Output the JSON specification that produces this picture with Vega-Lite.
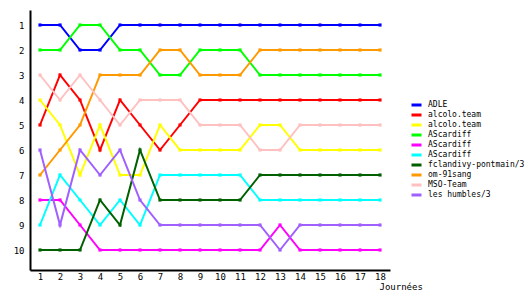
{
  "$schema": "https://vega.github.io/schema/vega-lite/v6.json",
  "width": 360,
  "height": 260,
  "autosize": {"type": "none"},
  "padding": {"left": 30, "top": 10, "right": 140, "bottom": 30},
  "background": "white",
  "config": {
    "view": {"stroke": null},
    "font": "DejaVu Sans Mono",
    "axis": {"labelFont": "DejaVu Sans Mono", "titleFont": "DejaVu Sans Mono", "labelColor": "black", "titleColor": "black", "domainColor": "black", "domainWidth": 2, "grid": false, "ticks": false, "labelFontSize": 9, "titleFontWeight": "normal", "titleFontSize": 9},
    "legend": {"labelFont": "DejaVu Sans Mono", "labelFontSize": 8, "labelColor": "black"}
  },
  "data": {"values": [
    {"team": "ADLE|0", "j": 1, "rank": 1}, {"team": "ADLE|0", "j": 2, "rank": 1}, {"team": "ADLE|0", "j": 3, "rank": 2}, {"team": "ADLE|0", "j": 4, "rank": 2}, {"team": "ADLE|0", "j": 5, "rank": 1}, {"team": "ADLE|0", "j": 6, "rank": 1}, {"team": "ADLE|0", "j": 7, "rank": 1}, {"team": "ADLE|0", "j": 8, "rank": 1}, {"team": "ADLE|0", "j": 9, "rank": 1}, {"team": "ADLE|0", "j": 10, "rank": 1}, {"team": "ADLE|0", "j": 11, "rank": 1}, {"team": "ADLE|0", "j": 12, "rank": 1}, {"team": "ADLE|0", "j": 13, "rank": 1}, {"team": "ADLE|0", "j": 14, "rank": 1}, {"team": "ADLE|0", "j": 15, "rank": 1}, {"team": "ADLE|0", "j": 16, "rank": 1}, {"team": "ADLE|0", "j": 17, "rank": 1}, {"team": "ADLE|0", "j": 18, "rank": 1},
    {"team": "alcolo.team|1", "j": 1, "rank": 5}, {"team": "alcolo.team|1", "j": 2, "rank": 3}, {"team": "alcolo.team|1", "j": 3, "rank": 4}, {"team": "alcolo.team|1", "j": 4, "rank": 6}, {"team": "alcolo.team|1", "j": 5, "rank": 4}, {"team": "alcolo.team|1", "j": 6, "rank": 5}, {"team": "alcolo.team|1", "j": 7, "rank": 6}, {"team": "alcolo.team|1", "j": 8, "rank": 5}, {"team": "alcolo.team|1", "j": 9, "rank": 4}, {"team": "alcolo.team|1", "j": 10, "rank": 4}, {"team": "alcolo.team|1", "j": 11, "rank": 4}, {"team": "alcolo.team|1", "j": 12, "rank": 4}, {"team": "alcolo.team|1", "j": 13, "rank": 4}, {"team": "alcolo.team|1", "j": 14, "rank": 4}, {"team": "alcolo.team|1", "j": 15, "rank": 4}, {"team": "alcolo.team|1", "j": 16, "rank": 4}, {"team": "alcolo.team|1", "j": 17, "rank": 4}, {"team": "alcolo.team|1", "j": 18, "rank": 4},
    {"team": "alcolo.team|2", "j": 1, "rank": 4}, {"team": "alcolo.team|2", "j": 2, "rank": 5}, {"team": "alcolo.team|2", "j": 3, "rank": 7}, {"team": "alcolo.team|2", "j": 4, "rank": 5}, {"team": "alcolo.team|2", "j": 5, "rank": 7}, {"team": "alcolo.team|2", "j": 6, "rank": 7}, {"team": "alcolo.team|2", "j": 7, "rank": 5}, {"team": "alcolo.team|2", "j": 8, "rank": 6}, {"team": "alcolo.team|2", "j": 9, "rank": 6}, {"team": "alcolo.team|2", "j": 10, "rank": 6}, {"team": "alcolo.team|2", "j": 11, "rank": 6}, {"team": "alcolo.team|2", "j": 12, "rank": 5}, {"team": "alcolo.team|2", "j": 13, "rank": 5}, {"team": "alcolo.team|2", "j": 14, "rank": 6}, {"team": "alcolo.team|2", "j": 15, "rank": 6}, {"team": "alcolo.team|2", "j": 16, "rank": 6}, {"team": "alcolo.team|2", "j": 17, "rank": 6}, {"team": "alcolo.team|2", "j": 18, "rank": 6},
    {"team": "AScardiff|3", "j": 1, "rank": 2}, {"team": "AScardiff|3", "j": 2, "rank": 2}, {"team": "AScardiff|3", "j": 3, "rank": 1}, {"team": "AScardiff|3", "j": 4, "rank": 1}, {"team": "AScardiff|3", "j": 5, "rank": 2}, {"team": "AScardiff|3", "j": 6, "rank": 2}, {"team": "AScardiff|3", "j": 7, "rank": 3}, {"team": "AScardiff|3", "j": 8, "rank": 3}, {"team": "AScardiff|3", "j": 9, "rank": 2}, {"team": "AScardiff|3", "j": 10, "rank": 2}, {"team": "AScardiff|3", "j": 11, "rank": 2}, {"team": "AScardiff|3", "j": 12, "rank": 3}, {"team": "AScardiff|3", "j": 13, "rank": 3}, {"team": "AScardiff|3", "j": 14, "rank": 3}, {"team": "AScardiff|3", "j": 15, "rank": 3}, {"team": "AScardiff|3", "j": 16, "rank": 3}, {"team": "AScardiff|3", "j": 17, "rank": 3}, {"team": "AScardiff|3", "j": 18, "rank": 3},
    {"team": "AScardiff|4", "j": 1, "rank": 8}, {"team": "AScardiff|4", "j": 2, "rank": 8}, {"team": "AScardiff|4", "j": 3, "rank": 9}, {"team": "AScardiff|4", "j": 4, "rank": 10}, {"team": "AScardiff|4", "j": 5, "rank": 10}, {"team": "AScardiff|4", "j": 6, "rank": 10}, {"team": "AScardiff|4", "j": 7, "rank": 10}, {"team": "AScardiff|4", "j": 8, "rank": 10}, {"team": "AScardiff|4", "j": 9, "rank": 10}, {"team": "AScardiff|4", "j": 10, "rank": 10}, {"team": "AScardiff|4", "j": 11, "rank": 10}, {"team": "AScardiff|4", "j": 12, "rank": 10}, {"team": "AScardiff|4", "j": 13, "rank": 9}, {"team": "AScardiff|4", "j": 14, "rank": 10}, {"team": "AScardiff|4", "j": 15, "rank": 10}, {"team": "AScardiff|4", "j": 16, "rank": 10}, {"team": "AScardiff|4", "j": 17, "rank": 10}, {"team": "AScardiff|4", "j": 18, "rank": 10},
    {"team": "AScardiff|5", "j": 1, "rank": 9}, {"team": "AScardiff|5", "j": 2, "rank": 7}, {"team": "AScardiff|5", "j": 3, "rank": 8}, {"team": "AScardiff|5", "j": 4, "rank": 9}, {"team": "AScardiff|5", "j": 5, "rank": 8}, {"team": "AScardiff|5", "j": 6, "rank": 9}, {"team": "AScardiff|5", "j": 7, "rank": 7}, {"team": "AScardiff|5", "j": 8, "rank": 7}, {"team": "AScardiff|5", "j": 9, "rank": 7}, {"team": "AScardiff|5", "j": 10, "rank": 7}, {"team": "AScardiff|5", "j": 11, "rank": 7}, {"team": "AScardiff|5", "j": 12, "rank": 8}, {"team": "AScardiff|5", "j": 13, "rank": 8}, {"team": "AScardiff|5", "j": 14, "rank": 8}, {"team": "AScardiff|5", "j": 15, "rank": 8}, {"team": "AScardiff|5", "j": 16, "rank": 8}, {"team": "AScardiff|5", "j": 17, "rank": 8}, {"team": "AScardiff|5", "j": 18, "rank": 8},
    {"team": "fclandivy-pontmain/3|6", "j": 1, "rank": 10}, {"team": "fclandivy-pontmain/3|6", "j": 2, "rank": 10}, {"team": "fclandivy-pontmain/3|6", "j": 3, "rank": 10}, {"team": "fclandivy-pontmain/3|6", "j": 4, "rank": 8}, {"team": "fclandivy-pontmain/3|6", "j": 5, "rank": 9}, {"team": "fclandivy-pontmain/3|6", "j": 6, "rank": 6}, {"team": "fclandivy-pontmain/3|6", "j": 7, "rank": 8}, {"team": "fclandivy-pontmain/3|6", "j": 8, "rank": 8}, {"team": "fclandivy-pontmain/3|6", "j": 9, "rank": 8}, {"team": "fclandivy-pontmain/3|6", "j": 10, "rank": 8}, {"team": "fclandivy-pontmain/3|6", "j": 11, "rank": 8}, {"team": "fclandivy-pontmain/3|6", "j": 12, "rank": 7}, {"team": "fclandivy-pontmain/3|6", "j": 13, "rank": 7}, {"team": "fclandivy-pontmain/3|6", "j": 14, "rank": 7}, {"team": "fclandivy-pontmain/3|6", "j": 15, "rank": 7}, {"team": "fclandivy-pontmain/3|6", "j": 16, "rank": 7}, {"team": "fclandivy-pontmain/3|6", "j": 17, "rank": 7}, {"team": "fclandivy-pontmain/3|6", "j": 18, "rank": 7},
    {"team": "om-91sang|7", "j": 1, "rank": 7}, {"team": "om-91sang|7", "j": 2, "rank": 6}, {"team": "om-91sang|7", "j": 3, "rank": 5}, {"team": "om-91sang|7", "j": 4, "rank": 3}, {"team": "om-91sang|7", "j": 5, "rank": 3}, {"team": "om-91sang|7", "j": 6, "rank": 3}, {"team": "om-91sang|7", "j": 7, "rank": 2}, {"team": "om-91sang|7", "j": 8, "rank": 2}, {"team": "om-91sang|7", "j": 9, "rank": 3}, {"team": "om-91sang|7", "j": 10, "rank": 3}, {"team": "om-91sang|7", "j": 11, "rank": 3}, {"team": "om-91sang|7", "j": 12, "rank": 2}, {"team": "om-91sang|7", "j": 13, "rank": 2}, {"team": "om-91sang|7", "j": 14, "rank": 2}, {"team": "om-91sang|7", "j": 15, "rank": 2}, {"team": "om-91sang|7", "j": 16, "rank": 2}, {"team": "om-91sang|7", "j": 17, "rank": 2}, {"team": "om-91sang|7", "j": 18, "rank": 2},
    {"team": "MSO-Team|8", "j": 1, "rank": 3}, {"team": "MSO-Team|8", "j": 2, "rank": 4}, {"team": "MSO-Team|8", "j": 3, "rank": 3}, {"team": "MSO-Team|8", "j": 4, "rank": 4}, {"team": "MSO-Team|8", "j": 5, "rank": 5}, {"team": "MSO-Team|8", "j": 6, "rank": 4}, {"team": "MSO-Team|8", "j": 7, "rank": 4}, {"team": "MSO-Team|8", "j": 8, "rank": 4}, {"team": "MSO-Team|8", "j": 9, "rank": 5}, {"team": "MSO-Team|8", "j": 10, "rank": 5}, {"team": "MSO-Team|8", "j": 11, "rank": 5}, {"team": "MSO-Team|8", "j": 12, "rank": 6}, {"team": "MSO-Team|8", "j": 13, "rank": 6}, {"team": "MSO-Team|8", "j": 14, "rank": 5}, {"team": "MSO-Team|8", "j": 15, "rank": 5}, {"team": "MSO-Team|8", "j": 16, "rank": 5}, {"team": "MSO-Team|8", "j": 17, "rank": 5}, {"team": "MSO-Team|8", "j": 18, "rank": 5},
    {"team": "les humbles/3|9", "j": 1, "rank": 6}, {"team": "les humbles/3|9", "j": 2, "rank": 9}, {"team": "les humbles/3|9", "j": 3, "rank": 6}, {"team": "les humbles/3|9", "j": 4, "rank": 7}, {"team": "les humbles/3|9", "j": 5, "rank": 6}, {"team": "les humbles/3|9", "j": 6, "rank": 8}, {"team": "les humbles/3|9", "j": 7, "rank": 9}, {"team": "les humbles/3|9", "j": 8, "rank": 9}, {"team": "les humbles/3|9", "j": 9, "rank": 9}, {"team": "les humbles/3|9", "j": 10, "rank": 9}, {"team": "les humbles/3|9", "j": 11, "rank": 9}, {"team": "les humbles/3|9", "j": 12, "rank": 9}, {"team": "les humbles/3|9", "j": 13, "rank": 10}, {"team": "les humbles/3|9", "j": 14, "rank": 9}, {"team": "les humbles/3|9", "j": 15, "rank": 9}, {"team": "les humbles/3|9", "j": 16, "rank": 9}, {"team": "les humbles/3|9", "j": 17, "rank": 9}, {"team": "les humbles/3|9", "j": 18, "rank": 9}
  ]},
  "mark": {"type": "line", "strokeWidth": 2, "interpolate": "linear", "point": {"filled": true, "shape": "square", "size": 10, "opacity": 1}},
  "encoding": {
    "x": {"field": "j", "type": "quantitative", "scale": {"domain": [0.5, 18.5], "nice": false, "zero": false},
      "axis": {"values": [1,2,3,4,5,6,7,8,9,10,11,12,13,14,15,16,17,18], "format": "d", "labelPadding": 2, "title": "Journées", "titleAnchor": "start", "titleAlign": "left", "titleX": 349, "titleY": 16, "titleBaseline": "middle", "labelFlush": false}},
    "y": {"field": "rank", "type": "quantitative", "scale": {"domain": [10.8, 0.4], "nice": false, "zero": false},
      "axis": {"values": [1,2,3,4,5,6,7,8,9,10], "format": "d", "labelPadding": 6, "title": null, "labelFlush": false}},
    "color": {"field": "team", "type": "nominal",
      "scale": {"domain": ["ADLE|0", "alcolo.team|1", "alcolo.team|2", "AScardiff|3", "AScardiff|4", "AScardiff|5", "fclandivy-pontmain/3|6", "om-91sang|7", "MSO-Team|8", "les humbles/3|9"],
        "range": ["#0000ff", "#ff0000", "#ffff00", "#00ff00", "#ff00ff", "#00ffff", "#006000", "#ff9900", "#ffc0c0", "#a060ff"]},
      "legend": {"title": null, "orient": "none", "legendX": 380, "legendY": 90, "symbolType": "stroke", "symbolStrokeWidth": 3, "symbolSize": 100, "rowPadding": 0, "clipHeight": 10, "labelOffset": 5, "labelExpr": "split(datum.label, '|')[0]", "padding": 0}}
  }
}
